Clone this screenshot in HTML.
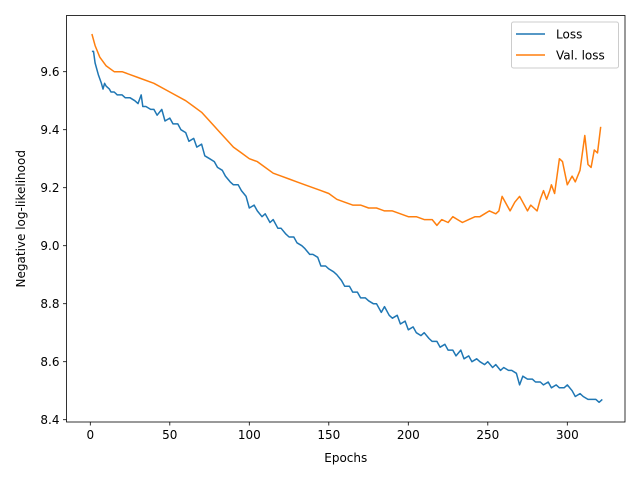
<!DOCTYPE html>
<html><head><meta charset="utf-8"><style>
body{margin:0;background:#fff;}
svg{display:block;font-family:"DejaVu Sans","Liberation Sans",sans-serif;}
</style></head><body>
<svg id="chart" width="640" height="480" viewBox="0 0 640 480">
<rect x="0" y="0" width="640" height="480" fill="#fff"/>
<g id="axes"></g>
<g id="series"></g>
<g id="legend">
<rect x="511.5" y="22" width="107" height="46" rx="2" fill="#fff" fill-opacity="0.8" stroke="#ccc"/>
<line x1="516" y1="34" x2="545" y2="34" stroke="#1f77b4" stroke-width="1.5"/>
<text x="556" y="38.5" font-size="12">Loss</text>
<line x1="516" y1="55" x2="545" y2="55" stroke="#ff7f0e" stroke-width="1.5"/>
<text x="556" y="59.5" font-size="12">Val. loss</text>
</g>
</svg>
<script>
const lossEpochs=[1,2,3,5,7,8,9,10,12,13,15,17,20,22,25,28,30,32,33,35,38,40,42,45,47,50,52,55,57,60,62,65,67,70,72,75,78,80,83,85,88,90,93,95,98,100,103,105,108,110,113,115,118,120,123,125,128,130,133,135,138,140,143,145,148,150,153,155,158,160,163,165,168,170,173,175,178,180,183,185,188,190,193,195,198,200,203,205,208,210,213,215,218,220,223,225,228,230,233,235,238,240,243,245,248,250,253,255,258,260,263,265,268,270,272,275,278,280,283,285,288,290,293,295,298,300,303,305,308,310,313,315,318,320,322];
const lossValues=[9.67,9.67,9.63,9.59,9.56,9.54,9.56,9.55,9.54,9.53,9.53,9.52,9.52,9.51,9.51,9.50,9.49,9.52,9.48,9.48,9.47,9.47,9.45,9.47,9.43,9.44,9.42,9.42,9.40,9.39,9.36,9.37,9.34,9.35,9.31,9.30,9.29,9.27,9.26,9.24,9.22,9.21,9.21,9.19,9.17,9.13,9.14,9.12,9.10,9.11,9.08,9.09,9.06,9.06,9.04,9.03,9.03,9.01,9.00,8.99,8.97,8.97,8.96,8.93,8.93,8.92,8.91,8.90,8.88,8.86,8.86,8.84,8.84,8.82,8.82,8.81,8.80,8.80,8.77,8.79,8.76,8.75,8.76,8.73,8.74,8.71,8.72,8.70,8.69,8.70,8.68,8.67,8.67,8.65,8.66,8.64,8.64,8.62,8.64,8.61,8.62,8.60,8.61,8.60,8.59,8.60,8.58,8.59,8.57,8.58,8.57,8.57,8.56,8.52,8.55,8.54,8.54,8.53,8.53,8.52,8.53,8.51,8.52,8.51,8.51,8.52,8.50,8.48,8.49,8.48,8.47,8.47,8.47,8.46,8.47];
const valEpochs=[1,3,6,10,15,20,30,40,50,60,65,70,75,80,85,90,95,100,105,110,115,120,125,130,135,140,145,150,155,160,165,170,175,180,185,190,195,200,205,210,215,218,221,225,228,231,234,238,242,245,248,251,255,257,259,262,264,267,270,272,275,277,279,281,283,285,287,289,290,292,294,295,297,300,303,305,308,311,313,315,317,319,321];
const valValues=[9.73,9.69,9.65,9.62,9.60,9.60,9.58,9.56,9.53,9.50,9.48,9.46,9.43,9.40,9.37,9.34,9.32,9.30,9.29,9.27,9.25,9.24,9.23,9.22,9.21,9.20,9.19,9.18,9.16,9.15,9.14,9.14,9.13,9.13,9.12,9.12,9.11,9.10,9.10,9.09,9.09,9.07,9.09,9.08,9.10,9.09,9.08,9.09,9.10,9.10,9.11,9.12,9.11,9.12,9.17,9.14,9.12,9.15,9.17,9.15,9.12,9.14,9.13,9.12,9.16,9.19,9.16,9.19,9.21,9.18,9.26,9.30,9.29,9.21,9.24,9.22,9.26,9.38,9.28,9.27,9.33,9.32,9.41];
const xTicks=[0,50,100,150,200,250,300];
const yTicks=[8.4,8.6,8.8,9.0,9.2,9.4,9.6];
const yTickLabels=["8.4","8.6","8.8","9.0","9.2","9.4","9.6"];

const L=66.5,R=625,T=15.5,B=422;
const xs=e=>90.3+(e-0)*(79.5/50);
const ys=v=>71.7+(9.6-v)*(348/1.2);
const NS='http://www.w3.org/2000/svg';
function mk(tag,attrs,parent){const el=document.createElementNS(NS,tag);for(const k in attrs)el.setAttribute(k,attrs[k]);parent.appendChild(el);return el;}
const axes=document.getElementById('axes');
const series=document.getElementById('series');

xTicks.forEach(t=>{
  const x=xs(t);
  const tk=mk('line',{x1:x,y1:B,x2:x,y2:B+3.5,stroke:'#000','stroke-width':0.8},axes);
  
  
  const tx=mk('text',{x:x,y:B+17,'font-size':12,'text-anchor':'middle'},axes);
  tx.textContent=String(t);
  
  
});
yTicks.forEach((t,i)=>{
  const y=ys(t);
  const tk=mk('line',{x1:L-3.5,y1:y,x2:L,y2:y,stroke:'#000','stroke-width':0.8},axes);
  
  
  const tx=mk('text',{x:L-7,y:y+4.5,'font-size':12,'text-anchor':'end'},axes);
  tx.textContent=yTickLabels[i];
  
  
});
const xt=mk('text',{x:(L+R)/2,y:462,'font-size':12,'text-anchor':'middle'},axes);
xt.textContent='Epochs';


const yt=mk('text',{x:0,y:0,'font-size':12,'text-anchor':'middle',transform:'translate(25,'+((T+B)/2)+') rotate(-90)'},axes);
yt.textContent='Negative log-likelihood';



function line(ex,vals,color,name){
  const pts=ex.map((e,i)=>xs(e).toFixed(1)+','+ys(vals[i]).toFixed(1)).join(' ');
  const p=mk('polyline',{points:pts,fill:'none',stroke:color,'stroke-width':1.5,'stroke-linejoin':'round'},series);
  
  
}
line(lossEpochs,lossValues,'#1f77b4','loss-line');
line(valEpochs,valValues,'#ff7f0e','val-loss-line');

const fr=mk('rect',{x:L,y:T,width:R-L,height:B-T,fill:'none',stroke:'#000','stroke-width':0.8},axes);


</script>
</body></html>
